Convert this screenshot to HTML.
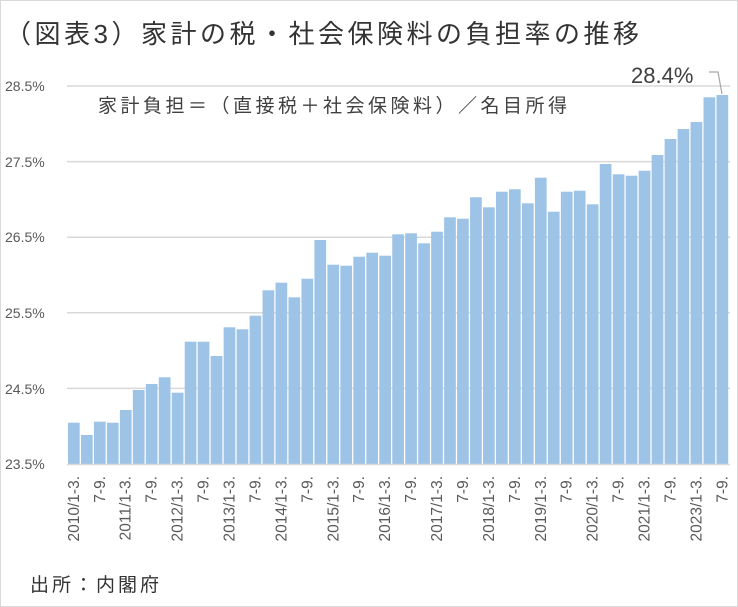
<!DOCTYPE html>
<html><head><meta charset="utf-8"><style>
html,body{margin:0;padding:0;background:#fff}
svg{display:block}
text{font-family:"Liberation Sans","Noto Sans CJK JP",sans-serif}
</style></head><body>
<svg width="738" height="607" viewBox="0 0 738 607" xmlns="http://www.w3.org/2000/svg">
<rect x="0.5" y="0.5" width="737" height="606" fill="#fff" stroke="#d9d9d9"/>
<text x="5" y="43" font-size="26" letter-spacing="3.5" fill="#333">（図表3）家計の税・社会保険料の負担率の推移</text>
<g stroke="#d9d9d9" stroke-width="1.5">
<line x1="67" y1="86" x2="730" y2="86"/>
<line x1="67" y1="161.6" x2="730" y2="161.6"/>
<line x1="67" y1="237.2" x2="730" y2="237.2"/>
<line x1="67" y1="312.8" x2="730" y2="312.8"/>
<line x1="67" y1="388.4" x2="730" y2="388.4"/>
</g>
<g font-size="14" fill="#595959">
<text x="5" y="91">28.5%</text>
<text x="5" y="167">27.5%</text>
<text x="5" y="242">26.5%</text>
<text x="5" y="318">25.5%</text>
<text x="5" y="394">24.5%</text>
<text x="5" y="469">23.5%</text>
</g>
<g fill="#9dc3e6">
<rect x="68" y="422.7" width="11.7" height="41.3"/>
<rect x="80.97" y="435" width="11.7" height="29"/>
<rect x="93.94" y="421.7" width="11.7" height="42.3"/>
<rect x="106.91" y="422.7" width="11.7" height="41.3"/>
<rect x="119.88" y="410" width="11.7" height="54"/>
<rect x="132.85" y="390" width="11.7" height="74"/>
<rect x="145.82" y="384" width="11.7" height="80"/>
<rect x="158.79" y="377.3" width="11.7" height="86.7"/>
<rect x="171.76" y="392.7" width="11.7" height="71.3"/>
<rect x="184.73" y="341.7" width="11.7" height="122.3"/>
<rect x="197.7" y="341.7" width="11.7" height="122.3"/>
<rect x="210.67" y="356" width="11.7" height="108"/>
<rect x="223.64" y="327.3" width="11.7" height="136.7"/>
<rect x="236.61" y="329.3" width="11.7" height="134.7"/>
<rect x="249.58" y="315.7" width="11.7" height="148.3"/>
<rect x="262.55" y="290.3" width="11.7" height="173.7"/>
<rect x="275.52" y="282.7" width="11.7" height="181.3"/>
<rect x="288.49" y="297.3" width="11.7" height="166.7"/>
<rect x="301.46" y="278.7" width="11.7" height="185.3"/>
<rect x="314.43" y="240" width="11.7" height="224"/>
<rect x="327.4" y="264.7" width="11.7" height="199.3"/>
<rect x="340.37" y="265.7" width="11.7" height="198.3"/>
<rect x="353.34" y="256.7" width="11.7" height="207.3"/>
<rect x="366.31" y="252.7" width="11.7" height="211.3"/>
<rect x="379.28" y="255.7" width="11.7" height="208.3"/>
<rect x="392.25" y="234.3" width="11.7" height="229.7"/>
<rect x="405.22" y="233.3" width="11.7" height="230.7"/>
<rect x="418.19" y="243.3" width="11.7" height="220.7"/>
<rect x="431.16" y="231.7" width="11.7" height="232.3"/>
<rect x="444.13" y="217.3" width="11.7" height="246.7"/>
<rect x="457.1" y="218.7" width="11.7" height="245.3"/>
<rect x="470.07" y="197.3" width="11.7" height="266.7"/>
<rect x="483.04" y="207.3" width="11.7" height="256.7"/>
<rect x="496.01" y="191.7" width="11.7" height="272.3"/>
<rect x="508.98" y="189.3" width="11.7" height="274.7"/>
<rect x="521.95" y="203.3" width="11.7" height="260.7"/>
<rect x="534.92" y="177.7" width="11.7" height="286.3"/>
<rect x="547.89" y="211.7" width="11.7" height="252.3"/>
<rect x="560.86" y="191.7" width="11.7" height="272.3"/>
<rect x="573.83" y="190.7" width="11.7" height="273.3"/>
<rect x="586.8" y="204.3" width="11.7" height="259.7"/>
<rect x="599.77" y="164" width="11.7" height="300"/>
<rect x="612.74" y="174.3" width="11.7" height="289.7"/>
<rect x="625.71" y="175.7" width="11.7" height="288.3"/>
<rect x="638.68" y="170.7" width="11.7" height="293.3"/>
<rect x="651.65" y="155" width="11.7" height="309"/>
<rect x="664.62" y="139" width="11.7" height="325"/>
<rect x="677.59" y="129" width="11.7" height="335"/>
<rect x="690.56" y="122" width="11.7" height="342"/>
<rect x="703.53" y="97.3" width="11.7" height="366.7"/>
<rect x="716.5" y="95" width="11.7" height="369"/>
</g>
<line x1="67" y1="464.5" x2="730" y2="464.5" stroke="#d9d9d9" stroke-width="1.5"/>
<text x="98" y="112" font-size="19" letter-spacing="3.5" fill="#404040">家計負担＝（直接税＋社会保険料）／名目所得</text>
<text x="631" y="83" font-size="22" fill="#404040">28.4%</text>
<polyline points="709,72 718,72 722,94" fill="none" stroke="#a6a6a6" stroke-width="1.2"/>
<g font-size="15.5" fill="#595959" text-anchor="end">
<text transform="translate(78.9,476) rotate(-90)">2010/1-3.</text>
<text transform="translate(104.8,476) rotate(-90)">7-9.</text>
<text transform="translate(130.7,476) rotate(-90)">2011/1-3.</text>
<text transform="translate(156.7,476) rotate(-90)">7-9.</text>
<text transform="translate(182.6,476) rotate(-90)">2012/1-3.</text>
<text transform="translate(208.6,476) rotate(-90)">7-9.</text>
<text transform="translate(234.5,476) rotate(-90)">2013/1-3.</text>
<text transform="translate(260.4,476) rotate(-90)">7-9.</text>
<text transform="translate(286.4,476) rotate(-90)">2014/1-3.</text>
<text transform="translate(312.3,476) rotate(-90)">7-9.</text>
<text transform="translate(338.3,476) rotate(-90)">2015/1-3.</text>
<text transform="translate(364.2,476) rotate(-90)">7-9.</text>
<text transform="translate(390.1,476) rotate(-90)">2016/1-3.</text>
<text transform="translate(416.1,476) rotate(-90)">7-9.</text>
<text transform="translate(442,476) rotate(-90)">2017/1-3.</text>
<text transform="translate(468,476) rotate(-90)">7-9.</text>
<text transform="translate(493.9,476) rotate(-90)">2018/1-3.</text>
<text transform="translate(519.8,476) rotate(-90)">7-9.</text>
<text transform="translate(545.8,476) rotate(-90)">2019/1-3.</text>
<text transform="translate(571.7,476) rotate(-90)">7-9.</text>
<text transform="translate(597.7,476) rotate(-90)">2020/1-3.</text>
<text transform="translate(623.6,476) rotate(-90)">7-9.</text>
<text transform="translate(649.5,476) rotate(-90)">2021/1-3.</text>
<text transform="translate(675.5,476) rotate(-90)">7-9.</text>
<text transform="translate(701.4,476) rotate(-90)">2023/1-3.</text>
<text transform="translate(727.4,476) rotate(-90)">7-9.</text>
</g>
<text x="30" y="591" font-size="19" letter-spacing="3" fill="#333">出所：内閣府</text>
</svg>
</body></html>
